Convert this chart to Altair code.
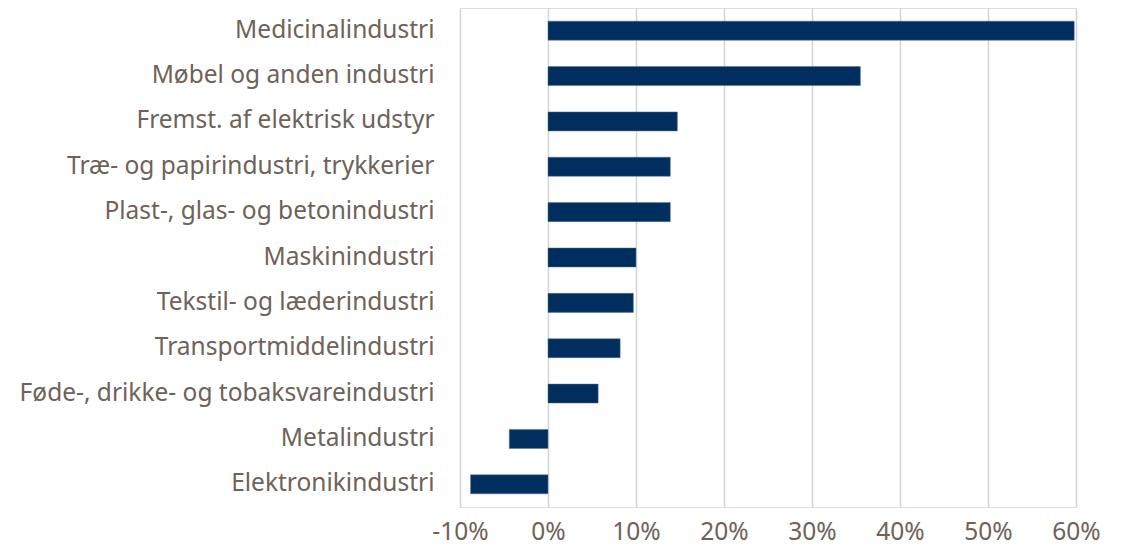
import altair as alt
import pandas as pd

categories = [
    "Medicinalindustri",
    "Møbel og anden industri",
    "Fremst. af elektrisk udstyr",
    "Træ- og papirindustri, trykkerier",
    "Plast-, glas- og betonindustri",
    "Maskinindustri",
    "Tekstil- og læderindustri",
    "Transportmiddelindustri",
    "Føde-, drikke- og tobaksvareindustri",
    "Metalindustri",
    "Elektronikindustri",
]
values = [0.598, 0.355, 0.147, 0.139, 0.139, 0.100, 0.097, 0.082, 0.057, -0.044, -0.088]
tick_values = [-0.1, 0, 0.1, 0.2, 0.3, 0.4, 0.5, 0.6]

df = pd.DataFrame({"cat": categories, "val": values})

text_color = "#6e6259"

chart = alt.Chart(df).mark_bar(color="#002f5f", stroke="#5a7594", strokeWidth=0.5).encode(
    x=alt.X(
        "val:Q",
        scale=alt.Scale(domain=[-0.1, 0.6], nice=False, zero=False),
        axis=alt.Axis(
            format=".0%",
            values=tick_values,
            labelExpr="replace(datum.label, '\u2212', '-')",
            title=None,
            domain=False,
            ticks=False,
            grid=True,
            gridColor="#d4d4d4",
            gridWidth=1.5,
            labelFlush=False,
            labelFont="Noto Sans",
            labelFontSize=24.5,
            labelColor=text_color,
            labelPadding=13,
        ),
    ),
    y=alt.Y(
        "cat:N",
        sort=categories,
        scale=alt.Scale(paddingInner=0.58, paddingOuter=0.29),
        axis=alt.Axis(
            title=None,
            domain=False,
            ticks=False,
            labelFont="Noto Sans",
            labelFontSize=24.5,
            labelColor=text_color,
            labelPadding=26,
            labelLimit=600,
        ),
    ),
).properties(width=616, height=499).configure_view(stroke=None).configure(padding={"left": 11, "top": 0, "right": 5, "bottom": 5})

chart.save("out.html", embed_options={"renderer": "svg", "actions": False})
